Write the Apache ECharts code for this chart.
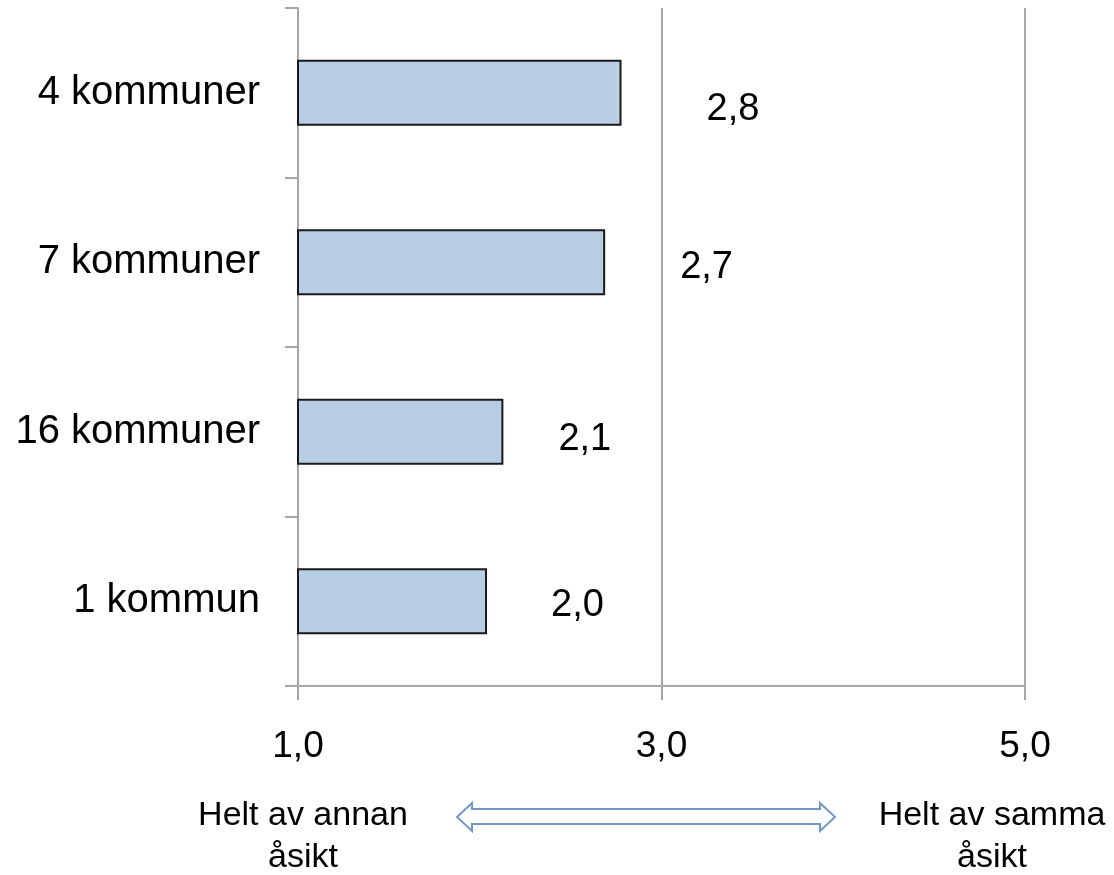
<!DOCTYPE html>
<html>
<head>
<meta charset="utf-8">
<script src="https://cdn.jsdelivr.net/npm/echarts@6/dist/echarts.min.js"></script>
<style>
  html, body { margin: 0; padding: 0; background: #fff; }
  #chart { width: 1114px; height: 875px; }
</style>
</head>
<body>
<div id="chart"></div>
<script>
// data
const categories = ['4 kommuner', '7 kommuner', '16 kommuner', '1 kommun'];
const values = [2.78, 2.69, 2.13, 2.04];
const axisMin = 1;
const axisMax = 5;
const axisStep = 2;
const leftNote = 'Helt av annan\nåsikt';
const rightNote = 'Helt av samma\nåsikt';

// value labels sit a bit unevenly in the original
const labelShift = [[85, 10], [75, -2], [55, 1], [64, -3]];

const font = '"Liberation Sans", Arial, sans-serif';
const lineGray = '#a6a6a6';
const fmt = v => v.toFixed(1).replace('.', ',');

const chart = echarts.init(document.getElementById('chart'));

const option = {
  backgroundColor: '#fff',
  animation: false,
  textStyle: { fontFamily: font },
  grid: { left: 298, right: 89, top: 8, bottom: 189, containLabel: false },
  xAxis: {
    type: 'value',
    min: axisMin,
    max: axisMax,
    interval: axisStep,
    axisLine: { show: true, lineStyle: { color: lineGray, width: 2 } },
    axisTick: { show: true, length: 14, lineStyle: { color: lineGray, width: 2 } },
    axisLabel: {
      margin: 42,
      fontSize: 37,
      color: '#000',
      fontFamily: font,
      formatter: fmt
    },
    splitLine: { show: true, lineStyle: { color: lineGray, width: 2 } }
  },
  yAxis: {
    type: 'category',
    data: categories,
    inverse: true,
    axisLine: { show: true, lineStyle: { color: lineGray, width: 2 } },
    axisTick: { show: true, length: 13, lineStyle: { color: lineGray, width: 2 } },
    axisLabel: { margin: 38, fontSize: 40, color: '#000', fontFamily: font, padding: [6, 0, 0, 0] },
    splitLine: { show: false }
  },
  series: [{
    type: 'bar',
    data: values.map((v, i) => ({
      value: v,
      label: { distance: labelShift[i][0], offset: [0, labelShift[i][1] + 7] }
    })),
    barWidth: 66,
    itemStyle: { color: '#b9cde5', borderColor: '#1a1a1a', borderWidth: 2 },
    label: {
      show: true,
      position: 'right',
      fontSize: 38,
      color: '#000',
      fontFamily: font,
      formatter: p => fmt(p.value)
    }
  }],
  graphic: [
    {
      type: 'text',
      x: 303,
      y: 795,
      style: { text: leftNote, font: '34px ' + font, fill: '#000', align: 'center', lineHeight: 42 }
    },
    {
      type: 'polygon',
      shape: {
        points: [
          [457, 817], [472, 803], [472, 809], [820, 809], [820, 803],
          [835, 817], [820, 831], [820, 824], [472, 824], [472, 831]
        ]
      },
      style: { fill: '#fff', stroke: '#7396c9', lineWidth: 2 }
    },
    {
      type: 'text',
      x: 992,
      y: 795,
      style: { text: rightNote, font: '34px ' + font, fill: '#000', align: 'center', lineHeight: 42 }
    }
  ]
};

chart.setOption(option);
</script>
</body>
</html>
